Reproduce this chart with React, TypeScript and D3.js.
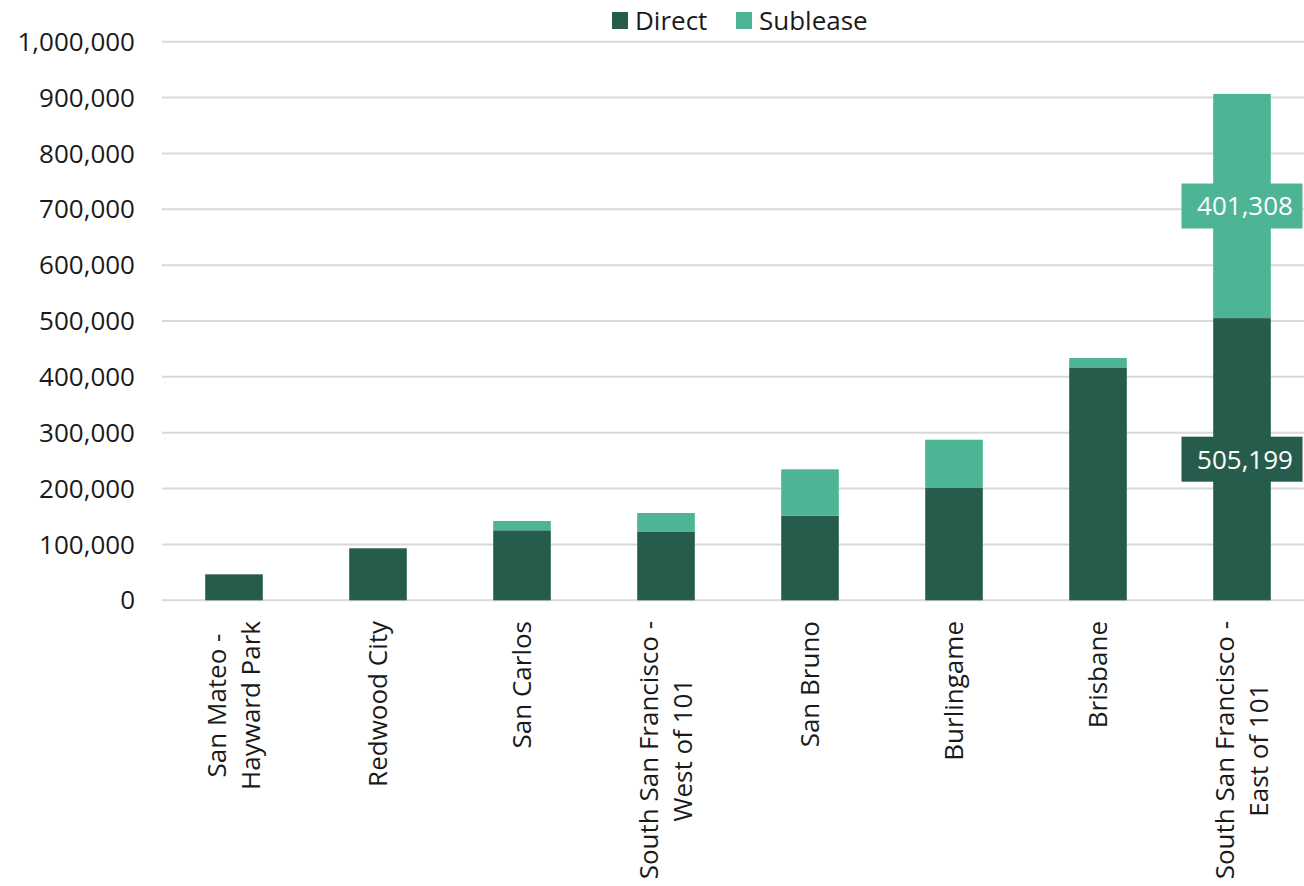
import React, { useEffect, useRef } from "react";
import * as d3 from "d3";

const categories = [
  "San Mateo -\nHayward Park",
  "Redwood City",
  "San Carlos",
  "South San Francisco -\nWest of 101",
  "San Bruno",
  "Burlingame",
  "Brisbane",
  "South San Francisco -\nEast of 101",
];
const directValues = [46500, 93100, 125300, 122300, 151400, 201000, 415900, 505199];
const subleaseValues = [0, 0, 16700, 34000, 83100, 86500, 17900, 401308];
const yTicks = [0, 100000, 200000, 300000, 400000, 500000, 600000, 700000, 800000, 900000, 1000000];
const seriesNames = ["Direct", "Sublease"];
const labelledCategory = 7;

const WIDTH = 1304;
const HEIGHT = 886;
const COLORS = ["#265c4b", "#4db595"];
const FONT = "'Open Sans', 'Noto Sans', sans-serif";
const FS = 26;

export default function App() {
  const ref = useRef<SVGSVGElement | null>(null);

  useEffect(() => {
    const svg = d3.select(ref.current);
    svg.selectAll("*").remove();

    const x = d3.scaleBand<number>().domain(d3.range(categories.length)).range([162, 1314]).paddingInner(0.6).paddingOuter(0.3);
    const y = d3.scaleLinear().domain([0, 1000000]).range([600.3, 41.7]);

    // horizontal grid lines
    svg.append("g").selectAll("line").data(yTicks).join("line")
      .attr("x1", 162).attr("x2", WIDTH)
      .attr("y1", (d) => y(d)).attr("y2", (d) => y(d))
      .attr("stroke", "#d9d9d9").attr("stroke-width", 2);

    // y tick labels
    svg.append("g").selectAll("text").data(yTicks).join("text")
      .attr("x", 135).attr("y", (d) => y(d)).attr("dy", "0.35em")
      .attr("text-anchor", "end")
      .attr("font-family", FONT).attr("font-size", FS).attr("fill", "#1a1a1a")
      .text((d) => d3.format(",")(d));

    const stacked = d3.stack<number>().keys(["0", "1"]).value((i, k) => (k === "0" ? directValues[i] : subleaseValues[i]))(d3.range(categories.length));

    stacked.forEach((layer, s) => {
      svg.append("g").selectAll("rect").data(layer.map((seg, i) => ({ seg, i }))).join("rect")
        .attr("x", (d) => x(d.i)!)
        .attr("width", x.bandwidth())
        .attr("y", (d) => y(d.seg[1]))
        .attr("height", (d) => Math.max(0, y(d.seg[0]) - y(d.seg[1])))
        .attr("fill", COLORS[s]);
    });

    // value labels for the largest submarket
    stacked.forEach((layer, s) => {
      const seg = layer[labelledCategory];
      const cx = x(labelledCategory)! + x.bandwidth() / 2;
      const cy = (y(seg[0]) + y(seg[1])) / 2;
      const val = seg[1] - seg[0];
      const g = svg.append("g");
      g.append("rect").attr("x", cx - 60.5).attr("y", cy - 22.5).attr("width", 121).attr("height", 45).attr("fill", COLORS[s]);
      g.append("text").attr("x", cx + 3).attr("y", cy).attr("dy", "0.36em")
        .attr("text-anchor", "middle").attr("font-family", FONT).attr("font-size", FS).attr("fill", "#ffffff")
        .text(d3.format(",")(val));
    });

    // rotated category labels
    const lh = 34;
    categories.forEach((c, i) => {
      const lines = c.split("\n");
      const cx = x(i)! + x.bandwidth() / 2;
      const t = svg.append("text").attr("font-family", FONT).attr("font-size", FS).attr("fill", "#1a1a1a").attr("text-anchor", "middle");
      const spans = lines.map((ln, j) =>
        t.append("tspan").attr("x", 0).attr("y", (j - (lines.length - 1) / 2) * lh).attr("dy", "0.35em").text(ln)
      );
      const maxW = d3.max(spans, (sp) => (sp.node() as SVGTSpanElement).getComputedTextLength()) || 0;
      t.attr("transform", `translate(${cx},${621 + maxW / 2}) rotate(-90)`);
    });

    // legend
    const legend = svg.append("g");
    const lx = [612, 736];
    seriesNames.forEach((n, i) => {
      legend.append("rect").attr("x", lx[i]).attr("y", 12).attr("width", 16).attr("height", 17).attr("fill", COLORS[i]);
      legend.append("text").attr("x", lx[i] + 23).attr("y", 20.5).attr("dy", "0.35em")
        .attr("font-family", FONT).attr("font-size", FS).attr("fill", "#1a1a1a").text(n);
    });
  }, []);

  return (
    <svg ref={ref} width={WIDTH} height={HEIGHT} style={{ position: "absolute", left: 0, top: 0, background: "#ffffff" }} />
  );
}
